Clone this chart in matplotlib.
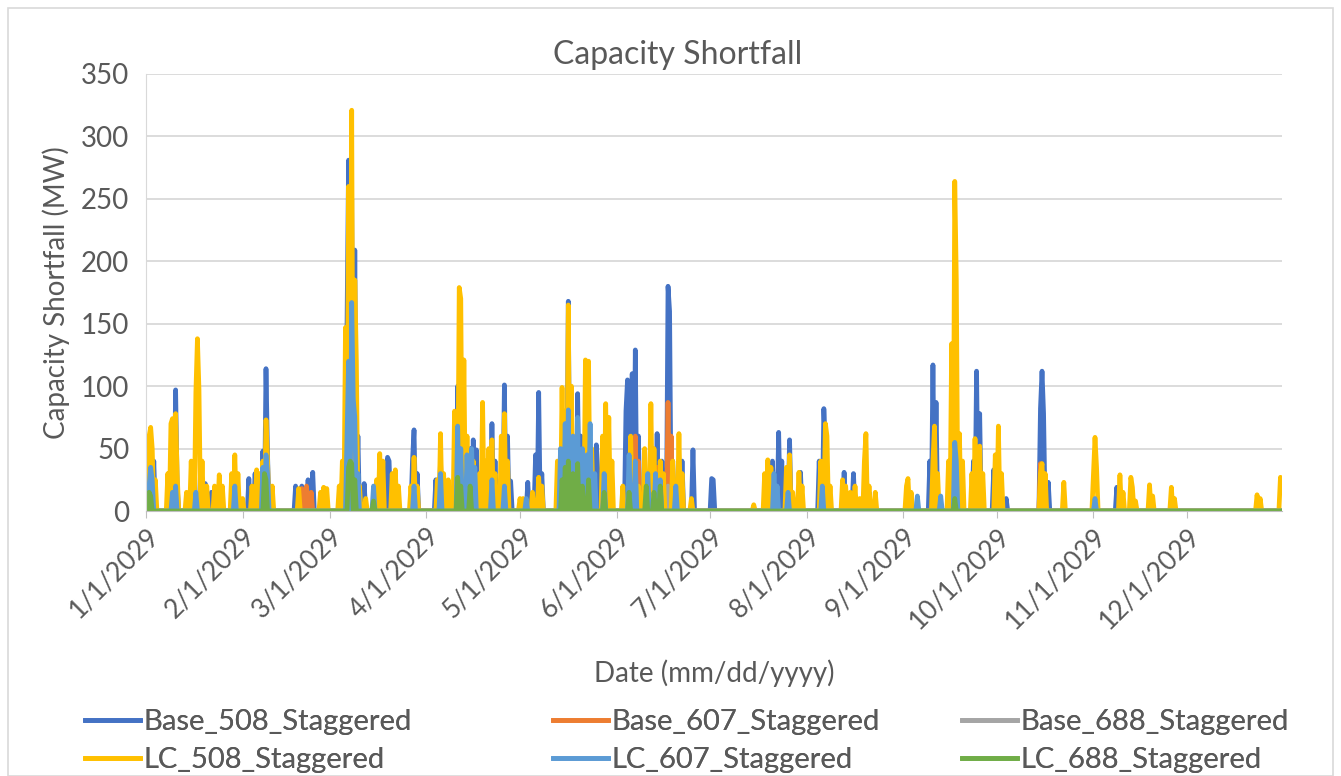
import numpy as np
import pandas as pd
import matplotlib
matplotlib.use("Agg")
import matplotlib.pyplot as plt
import matplotlib.dates as mdates
from matplotlib.patches import Rectangle

plt.rcParams['font.family'] = ['Lato', 'DejaVu Sans']

# ---------------- data (day of year offset from 1/1/2029, MW) ----------------
series_names = ["Base_508_Staggered", "Base_607_Staggered", "Base_688_Staggered",
                "LC_508_Staggered", "LC_607_Staggered", "LC_688_Staggered"]
series_colors = ["#4472C4", "#ED7D31", "#A5A5A5", "#FFC000", "#5B9BD5", "#70AD47"]

base508_day = [1.5, 2.5, 8.5, 9.3, 10, 15.5, 19, 21, 28, 33, 35, 37.5, 38.3, 39, 48, 50, 52, 53.4,
               64.5, 65.2, 66, 67.2, 68, 70, 75, 77.5, 78, 85.5, 86.2, 87, 93, 94.5, 100, 102.5,
               104, 105, 106, 111, 112, 115, 116, 117, 122.5, 125, 126, 127, 134, 135.7, 136.5,
               138.6, 139.5, 142, 144.4, 145, 154, 154.6, 156, 157, 158, 162, 164, 165.5, 167.5,
               168, 169, 172, 175.5, 181.3, 182, 201, 203, 204, 206.5, 210, 216, 217.4, 218, 224,
               227, 232, 251.5, 252.7, 253.3, 258, 260, 265.5, 266.6, 267.3, 272, 276, 287, 287.5,
               288, 289.5, 311.6]
base508_mw = [57, 40, 70, 97, 20, 35, 22, 15, 20, 26, 30, 48, 114, 45, 20, 20, 25, 31,
              150, 281, 250, 209, 60, 22, 30, 43, 40, 40, 65, 30, 25, 40, 100, 55,
              50, 57, 49, 70, 40, 101, 60, 24, 23, 45, 95, 30, 60, 168, 70,
              94, 60, 50, 53, 30, 80, 105, 110, 129, 60, 50, 62, 40, 180,
              160, 40, 40, 49, 26, 25, 40, 63, 40, 57, 31, 40, 82, 50, 31,
              30, 15, 40, 117, 87, 20, 40, 40, 112, 78, 33, 10, 82, 112,
              78, 23, 19]

base607_day = [38, 50, 51.5, 53, 66, 100, 157, 158, 164, 167.5, 168.3, 266, 287, 288]
base607_mw = [10, 18, 20, 15, 60, 30, 60, 40, 35, 87, 60, 20, 38, 30]

base688_day = [66, 136, 157, 167.5]
base688_mw = [30, 20, 15, 20]

lc508_day = [0.8, 1.3, 2, 3, 7, 7.8, 8.4, 9.3, 10, 13, 14.5, 15.8, 16.4, 17, 18, 19.5, 22, 23.5,
             24.5, 27.5, 28.6, 29.5, 31, 34, 35.7, 36.5, 37.5, 38.3, 39, 40.5, 49, 56, 57, 58,
             62, 63, 64, 65, 66.2, 67, 67.7, 68.5, 70.5, 74, 75, 76, 79, 80, 81, 85, 86, 87,
             93.5, 94.5, 95.5, 97, 99, 100.3, 101, 102, 103, 104, 105, 107, 108, 109, 110, 111,
             112, 114, 115, 116, 120, 121, 124, 126, 127, 132, 133.7, 134.5, 135.7, 136.5,
             137.5, 139, 141, 142, 143, 146.5, 147.6, 148.5, 149.5, 153, 155.5, 158, 160, 162,
             163, 165, 166, 169, 171, 172, 175, 195, 198.5, 199.6, 200.5, 202, 205.5, 206.5,
             207.5, 209.5, 210.5, 216.5, 217.8, 218.6, 219.5, 223.5, 224.5, 226, 227.5, 229,
             230.5, 231, 232, 234, 244, 244.7, 245.5, 252.3, 253, 254, 257.5, 258.5, 259.5,
             260.2, 261, 262, 265, 266, 267.5, 268.5, 272.5, 273.6, 274.5, 286.8, 287.5, 288.3,
             294.5, 304, 304.5, 305, 312.5, 313.3, 315.8, 316.5, 317.5, 322, 322.8, 329, 329.8,
             356.6, 357.5, 364, 364.5]
lc508_mw = [60, 67, 50, 25, 30, 70, 74, 78, 30, 15, 40, 95, 138, 97, 40, 20, 20, 29,
            20, 30, 45, 30, 10, 20, 33, 30, 40, 73, 40, 20, 18, 15, 19, 18,
            20, 40, 147, 260, 321, 185, 120, 20, 10, 25, 46, 40, 30, 33, 20, 20, 43, 20,
            25, 62, 30, 25, 80, 179, 170, 121, 60, 45, 40, 30, 87, 40, 50, 57,
            30, 60, 78, 40, 10, 10, 15, 27, 20, 40, 99, 80, 165, 100,
            60, 40, 121, 120, 50, 60, 86, 75, 40, 20, 60, 20, 50, 86,
            50, 40, 30, 40, 62, 30, 10, 5, 30, 41, 35, 20, 35, 45,
            15, 31, 20, 40, 70, 60, 20, 25, 20, 15, 20, 10,
            40, 62, 20, 15, 20, 26, 15, 40, 68, 30, 40, 134, 264,
            185, 62, 40, 30, 58, 52, 30, 45, 68, 30, 30, 38, 30,
            23, 30, 59, 35, 29, 15, 27, 19, 8, 21, 12, 19, 10,
            13, 10, 27, 20]

lc607_day = [0.8, 1.3, 2, 8.5, 9.3, 16, 28.5, 37.5, 38.3, 39, 64.5, 65.2, 66, 66.5, 67.2, 68,
             73, 86, 94.5, 100, 101, 103, 104.5, 105.5, 111, 115, 122, 133, 134.5, 135.7, 137,
             138.6, 140, 141.5, 142.5, 144, 147, 155, 157, 161, 163.5, 165, 170, 201.5, 202.5,
             206, 217, 247.6, 255, 259.5, 260, 304.5]
lc607_mw = [20, 35, 25, 15, 20, 15, 20, 35, 45, 30, 60, 120, 167, 90, 75, 30,
            20, 20, 30, 68, 50, 45, 50, 35, 25, 20, 10, 50, 70, 81, 60,
            75, 50, 45, 70, 30, 30, 45, 40, 30, 30, 25, 20, 30, 20,
            15, 20, 12, 12, 55, 40, 10]

lc688_day = [1, 1.5, 38, 38.5, 65, 65.5, 66.2, 67, 73, 100, 101, 104, 133.5, 134.5, 135.5, 137,
             138.5, 140, 142, 147, 155, 160.5, 163, 165, 259.5]
lc688_mw = [15, 12, 30, 25, 35, 40, 38, 25, 8, 27, 20, 20, 25, 35, 40, 30,
            38, 20, 25, 15, 15, 20, 15, 20, 10]

series_days = [base508_day, base607_day, base688_day, lc508_day, lc607_day, lc688_day]
series_mw = [base508_mw, base607_mw, base688_mw, lc508_mw, lc607_mw, lc688_mw]

# ---------------- build time series (12-hour resolution) ----------------
start = pd.Timestamp("2029-01-01")
times = pd.date_range(start, "2029-12-31 12:00", freq="12h")
n = len(times)

def build(days, mws):
    arr = np.zeros(n)
    for d, v in zip(days, mws):
        i = int(round(d * 2))
        if 0 <= i < n:
            arr[i] = max(arr[i], v)
    return arr

# ---------------- figure ----------------
W, H = 1341, 776
fig = plt.figure(figsize=(W / 100, H / 100), dpi=100)
fig.patches.append(Rectangle((8 / W, 0), 1 - 16 / W, 1 - 8 / H, transform=fig.transFigure,
                             fill=False, edgecolor="#D9D9D9", linewidth=1.2))

ax = fig.add_axes([146 / W, 1 - 511 / H, 1136 / W, 437 / H])

handles = []
for name, col, d, v in zip(series_names, series_colors, series_days, series_mw):
    h, = ax.plot(times, build(d, v), color=col, linewidth=3.4, label=name,
                 solid_joinstyle="round")
    handles.append(h)

txt = "#595959"
ax.set_ylim(0, 350)
ax.set_yticks(np.arange(0, 351, 50))
ax.set_xlim(start, pd.Timestamp("2029-12-31 12:00"))
ax.xaxis.set_major_locator(mdates.MonthLocator())
ax.xaxis.set_major_formatter(mdates.DateFormatter("%-m/%-d/%Y"))
ax.grid(axis="y", color="#D9D9D9", linewidth=1.3)
ax.set_axisbelow(True)
for s in ["top", "right"]:
    ax.spines[s].set_visible(False)
ax.spines["left"].set_color("#D9D9D9")
ax.spines["bottom"].set_color("#BFBFBF")
ax.tick_params(axis="y", length=0, labelsize=20, labelcolor=txt, pad=12)
ax.tick_params(axis="x", length=5, color="#BFBFBF", labelsize=19, labelcolor=txt, pad=4)
for lab in ax.get_xticklabels():
    lab.set_rotation(45)
    lab.set_ha("right")
    lab.set_rotation_mode("anchor")

fig.text(678 / W, 1 - 55 / H, "Capacity Shortfall", fontsize=23, color=txt,
         ha="center", va="center")
ax.set_ylabel("Capacity Shortfall (MW)", fontsize=20, color=txt, labelpad=8)
fig.text(714 / W, 1 - 673 / H, "Date (mm/dd/yyyy)", fontsize=20, color=txt,
         ha="center", va="center")

# legend: three columns (Base row on top, LC row below), placed like the reference
col_pairs = [(0, 3), (1, 4), (2, 5)]
col_x = [85, 553, 962]
for (a, b), x0 in zip(col_pairs, col_x):
    lg = fig.legend([handles[a], handles[b]], [series_names[a], series_names[b]],
                    loc="center left", bbox_to_anchor=(x0 / W, 1 - 741 / H), frameon=False,
                    fontsize=21, handlelength=1.9, handletextpad=0.1, borderpad=0,
                    borderaxespad=0, labelspacing=0.42, labelcolor=txt)
    fig.add_artist(lg)

fig.savefig("out.png", dpi=100)
